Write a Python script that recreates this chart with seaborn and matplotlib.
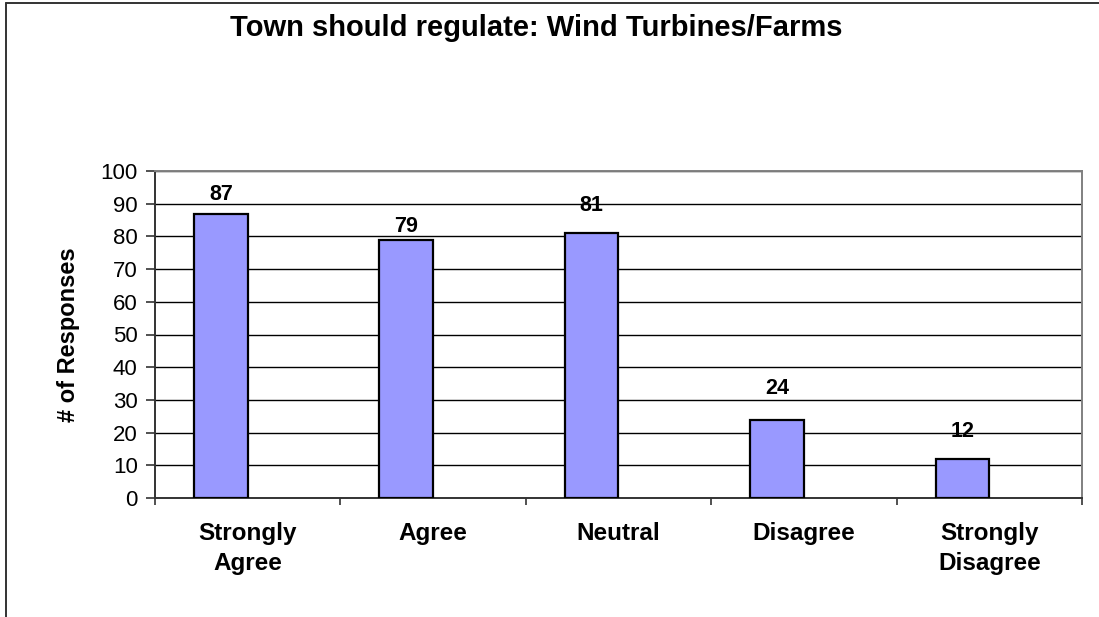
import numpy as np
import pandas as pd
import matplotlib
matplotlib.use('Agg')
import matplotlib.pyplot as plt
from matplotlib.lines import Line2D
import seaborn as sns

categories = ['Strongly\nAgree', 'Agree', 'Neutral', 'Disagree', 'Strongly\nDisagree']
responses = [87, 79, 81, 24, 12]
y_ticks = [0, 10, 20, 30, 40, 50, 60, 70, 80, 90, 100]

# how far each value label sits above its bar (points), as in the original
label_offsets = [14, 9.5, 20, 22, 19.5]

BAR_COLOR = '#9999ff'
BAR_W = 0.29

sns.set_theme(style='white')
plt.rcParams['font.family'] = ['Liberation Sans', 'DejaVu Sans']
plt.rcParams.update({'text.color': 'black', 'axes.labelcolor': 'black',
                     'xtick.color': 'black', 'ytick.color': 'black'})

df = pd.DataFrame({'category': categories, 'responses': responses})

fig = plt.figure(figsize=(10.99, 6.17), dpi=100)
ax = fig.add_axes([155 / 1099, 1 - 498 / 617, 927 / 1099, 327 / 617])

sns.barplot(data=df, x='category', y='responses', color=BAR_COLOR,
            saturation=1, width=BAR_W, edgecolor='black', linewidth=1.6,
            ax=ax, zorder=3)

# Excel-style: bar sits in the left half of the category slot
for p in ax.patches:
    p.set_x(p.get_x() - BAR_W / 2)

for i, (p, off) in enumerate(zip(ax.patches, label_offsets)):
    ax.annotate(f'{responses[i]}', (p.get_x() + p.get_width() / 2, p.get_height()),
                xytext=(0, off), textcoords='offset points',
                ha='center', va='center', fontsize=15.5, fontweight='bold',
                color='black', zorder=4)

n = len(categories)
ax.set_xlim(-0.5, n - 0.5)
ax.set_ylim(0, 100)
ax.set_yticks(y_ticks)
ax.yaxis.grid(True, color='black', linewidth=1.0, zorder=0)
ax.set_axisbelow(True)

# ticks between categories, labels centred on categories
ax.set_xticks(np.arange(-0.5, n, 1.0))
ax.set_xticklabels([])
ax.set_xticks(np.arange(n), minor=True)
ax.set_xticklabels(categories, minor=True, fontsize=17.5, fontweight='bold',
                   linespacing=1.42, va='top')
ax.tick_params(axis='x', which='major', direction='out', length=5, width=1.2,
               color='#333333', bottom=True)
ax.tick_params(axis='x', which='minor', length=0, pad=17)
ax.tick_params(axis='y', direction='out', length=6.5, width=1.2, color='#333333',
               left=True, labelsize=16, pad=6)

ax.set_xlabel('')
ax.set_ylabel('# of Responses', fontsize=17, fontweight='bold', labelpad=15)

for side in ('left', 'bottom'):
    ax.spines[side].set_color('#333333')
    ax.spines[side].set_linewidth(1.4)
for side in ('top', 'right'):
    ax.spines[side].set_visible(True)
    ax.spines[side].set_color('#808080')
    ax.spines[side].set_linewidth(1.4)

fig.text(536 / 1099, 1 - 28 / 617, 'Town should regulate: Wind Turbines/Farms',
         ha='center', va='center', fontsize=21, fontweight='bold')

# outer chart-area border (runs off the right and bottom edges)
fig.add_artist(Line2D([6 / 1099, 6 / 1099], [1 - 3 / 617, -0.1],
                      transform=fig.transFigure, color='#333333', linewidth=1.4))
fig.add_artist(Line2D([6 / 1099, 1.1], [1 - 3 / 617, 1 - 3 / 617],
                      transform=fig.transFigure, color='#333333', linewidth=1.4))

fig.savefig('out.png', dpi=100)
